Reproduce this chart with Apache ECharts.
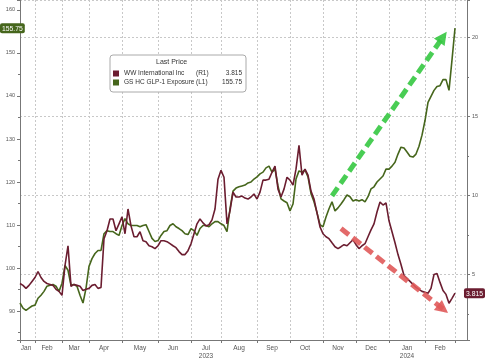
<!DOCTYPE html>
<html><head><meta charset="utf-8">
<script src="https://cdn.jsdelivr.net/npm/echarts@6/dist/echarts.min.js"></script>
<style>html,body{margin:0;padding:0;background:#fff}#c{width:485px;height:360px}</style>
</head><body><div id="c"></div>
<script>
// ---- data ----
const monthKeys   = ['2023-01','2023-02','2023-03','2023-04','2023-05','2023-06','2023-07','2023-08','2023-09','2023-10','2023-11','2023-12','2024-01','2024-02','2024-03'];
const monthNames  = ['Jan','Feb','Mar','Apr','May','Jun','Jul','Aug','Sep','Oct','Nov','Dec','Jan','Feb',''];
const monthCounts = [5,9,9,11,12,11,10,12,11,11,11,11,12,10,5];
const yearLabels  = {'2023-07':'2023','2024-01':'2024'};

const glp1 = [
 91.9,90.7,90.2,90.7,91.2,91.4,93.0,93.7,94.6,95.8,
 96.0,96.2,95.8,94.6,96.5,100.6,99.5,96.0,96.2,95.8,
 93.7,91.9,95.3,100.4,102.2,103.4,104.1,104.1,108.0,108.7,
 108.5,108.5,108.0,107.6,109.9,111.5,110.3,109.9,109.9,109.9,
 109.6,109.9,110.1,108.5,106.9,106.2,106.4,107.6,108.5,108.7,
 109.9,110.3,109.6,109.2,108.7,108.0,107.8,109.2,108.7,107.6,
 109.2,109.9,109.9,109.6,110.3,110.8,110.8,110.3,109.9,108.5,
 113.8,117.9,118.6,118.9,119.1,119.3,119.8,120.0,120.7,121.2,
 121.9,122.3,123.3,123.7,122.3,123.0,119.1,116.1,115.6,115.2,
 113.3,114.9,120.7,122.6,122.3,122.8,121.2,117.3,115.4,112.9,
 110.1,109.6,111.9,113.8,115.4,113.3,114.0,114.9,115.9,117.0,
 116.6,115.6,115.9,115.6,115.9,115.4,116.6,118.4,118.9,120.0,
 120.7,121.4,123.0,123.0,123.7,124.6,126.5,128.1,127.9,127.0,
 126.0,125.8,126.5,128.3,130.9,134.3,138.5,139.9,141.3,142.2,
 142.4,143.8,143.8,141.3,148.4,155.75
];
const ww = [
 4.43,4.31,4.12,4.31,4.56,4.81,5.19,4.81,4.56,4.43,
 4.37,4.31,4.06,3.93,3.68,5.57,6.82,4.25,4.37,4.31,
 4.25,3.99,4.06,4.12,4.31,4.37,4.12,4.18,7.27,7.77,
 8.52,8.52,7.77,8.21,8.65,7.58,9.15,8.08,7.39,7.39,
 7.71,7.14,7.08,6.82,6.76,6.64,6.82,7.14,7.14,7.08,
 6.95,6.82,6.70,6.45,6.26,6.26,6.51,6.95,7.58,8.21,
 8.52,8.27,8.08,8.15,8.46,9.15,11.04,11.60,11.16,8.21,
 9.03,10.22,9.91,9.91,9.97,9.84,9.78,9.91,10.10,9.78,
 10.22,10.98,10.98,11.04,11.48,11.86,10.41,9.91,10.41,11.16,
 10.98,10.66,11.67,13.18,11.29,11.67,11.29,10.28,9.78,8.90,
 8.02,7.58,7.39,7.27,7.01,6.76,6.64,6.76,6.89,6.82,
 7.01,7.20,6.89,6.64,6.82,6.95,7.39,7.83,8.21,8.96,
 9.59,9.40,9.53,8.40,7.71,7.01,6.26,5.63,4.94,4.75,
 4.56,4.37,4.18,4.06,3.93,3.87,3.81,4.12,5.00,5.06,
 4.50,3.99,3.74,3.18,3.49,3.815
];
const lastGlp1 = 155.75;
const lastWw = 3.815;
const arrowUp   = [[104,116.8],[141,153.7]];
const arrowDown = [[107,109.2],[141,90.5]];

// ---- build categories ----
const categories = [], tickIdx = new Set(), labelText = {};
monthKeys.forEach((m, mi) => {
  const n = monthCounts[mi];
  const y = +m.slice(0,4), mo = +m.slice(5,7);
  const days = new Date(y, mo, 0).getDate();
  tickIdx.add(categories.length);
  const mid = categories.length + Math.floor(n/2);
  if (monthNames[mi]) labelText[mid] = monthNames[mi] + (yearLabels[m] ? '\n' + yearLabels[m] : '');
  for (let k = 0; k < n; k++) {
    const d = 1 + Math.floor(k * days / n);
    categories.push(m + '-' + String(d).padStart(2,'0'));
  }
});

const FONT = 'Liberation Sans';
const AX = '#777';
const GREEN = '#46661c', MAROON = '#6b1d30';

const chart = echarts.init(document.getElementById('c'), null, {renderer:'canvas'});
chart.setOption({
  animation:false,
  backgroundColor:'#fff',
  textStyle:{fontFamily:FONT},
  title:{text:'Last Price', left:156, top:59, padding:0,
    textStyle:{fontSize:7, fontWeight:'normal', color:'#333', fontFamily:FONT}},
  legend:{
    data:['WW International Inc','GS HC GLP-1 Exposure'],
    orient:'vertical', left:110, top:55,
    padding:[15,4,6,3], itemGap:2, itemWidth:6, itemHeight:6, icon:'rect',
    borderColor:'#aaa', borderWidth:1, borderRadius:3, backgroundColor:'#fff',
    selectedMode:false,
    formatter: name => {
      const tag = name === 'WW International Inc' ? '(R1)' : '(L1)';
      const val = name === 'WW International Inc' ? lastWw.toFixed(3) : lastGlp1.toFixed(2);
      return '{n|' + name + '}{t|' + tag + '}{v|' + val + '}';
    },
    textStyle:{fontSize:6.5, color:'#333', fontFamily:FONT,
      rich:{n:{width:72, fontSize:6.5, color:'#333'}, t:{width:20, fontSize:6.5, color:'#333'}, v:{width:26, align:'right', fontSize:6.5, color:'#333'}}}
  },
  grid:{left:20, right:18, top:0, bottom:18, containLabel:false},
  xAxis:{
    type:'category', data:categories, boundaryGap:false,
    axisLine:{lineStyle:{color:AX}},
    axisTick:{show:true, length:3, lineStyle:{color:AX}, interval:(i)=>tickIdx.has(i)},
    axisLabel:{interval:(i)=>labelText[i]!==undefined, formatter:(v,i)=>labelText[i]||'',
      fontSize:6.5, color:'#555', margin:4, lineHeight:8, fontFamily:FONT},
    splitLine:{show:true, interval:(i)=>tickIdx.has(i) && i>0, lineStyle:{color:'#c8c8c8', type:[2,2], width:1}}
  },
  yAxis:[
    {type:'value', position:'left', min:83.3, max:162.3, splitNumber:8,
     axisLine:{show:true, lineStyle:{color:AX}},
     axisTick:{show:true, length:3, lineStyle:{color:AX}},
     minorTick:{show:true, splitNumber:2, length:2, lineStyle:{color:AX}},
     axisLabel:{fontSize:5.5, color:'#555', margin:5, showMinLabel:false, showMaxLabel:false, fontFamily:FONT},
     splitLine:{show:false},
     axisPointer:{show:true, value:lastGlp1, status:'show', triggerTooltip:false,
       lineStyle:{opacity:0},
       label:{show:true, formatter:p=>Number(p.value).toFixed(2), backgroundColor:GREEN, color:'#fff',
         fontSize:6.8, padding:[2,2,1,2], borderRadius:2, margin:1, fontFamily:FONT}}
    },
    {type:'value', position:'right', min:0.85, max:22.39, splitNumber:5,
     axisLine:{show:true, lineStyle:{color:AX}},
     axisTick:{show:true, length:3, lineStyle:{color:AX}},
     minorTick:{show:true, splitNumber:2, length:2, lineStyle:{color:AX}},
     axisLabel:{fontSize:5.5, color:'#555', margin:5, showMinLabel:false, showMaxLabel:false, fontFamily:FONT},
     splitLine:{show:true, lineStyle:{color:'#c8c8c8', type:[2,2], width:1}},
     axisPointer:{show:true, value:lastWw, status:'show', triggerTooltip:false,
       lineStyle:{opacity:0},
       label:{show:true, formatter:p=>Number(p.value).toFixed(3), backgroundColor:MAROON, color:'#fff',
         fontSize:6.8, padding:[2,2,1,2], borderRadius:2, margin:1, fontFamily:FONT}}
    }
  ],
  series:[
    {name:'GS HC GLP-1 Exposure', type:'line', yAxisIndex:0, data:glp1, symbol:'none', showSymbol:false,
     lineStyle:{color:GREEN, width:1.6}, itemStyle:{color:GREEN}, z:2,
     markLine:{silent:true, symbol:['none','triangle'], symbolSize:13, label:{show:false},
       lineStyle:{type:[10,5], width:5},
       emphasis:{disabled:true},
       data:[
         [{coord:arrowUp[0], lineStyle:{color:'#35c841', opacity:0.9}, itemStyle:{color:'#35c841'}}, {coord:arrowUp[1]}],
         [{coord:arrowDown[0], lineStyle:{color:'#e05a5a', opacity:0.9}, itemStyle:{color:'#e05a5a'}}, {coord:arrowDown[1]}]
       ]}
    },
    {name:'WW International Inc', type:'line', yAxisIndex:1, data:ww, symbol:'none', showSymbol:false,
     lineStyle:{color:MAROON, width:1.6}, itemStyle:{color:MAROON}, z:3}
  ]
});
</script></body></html>
